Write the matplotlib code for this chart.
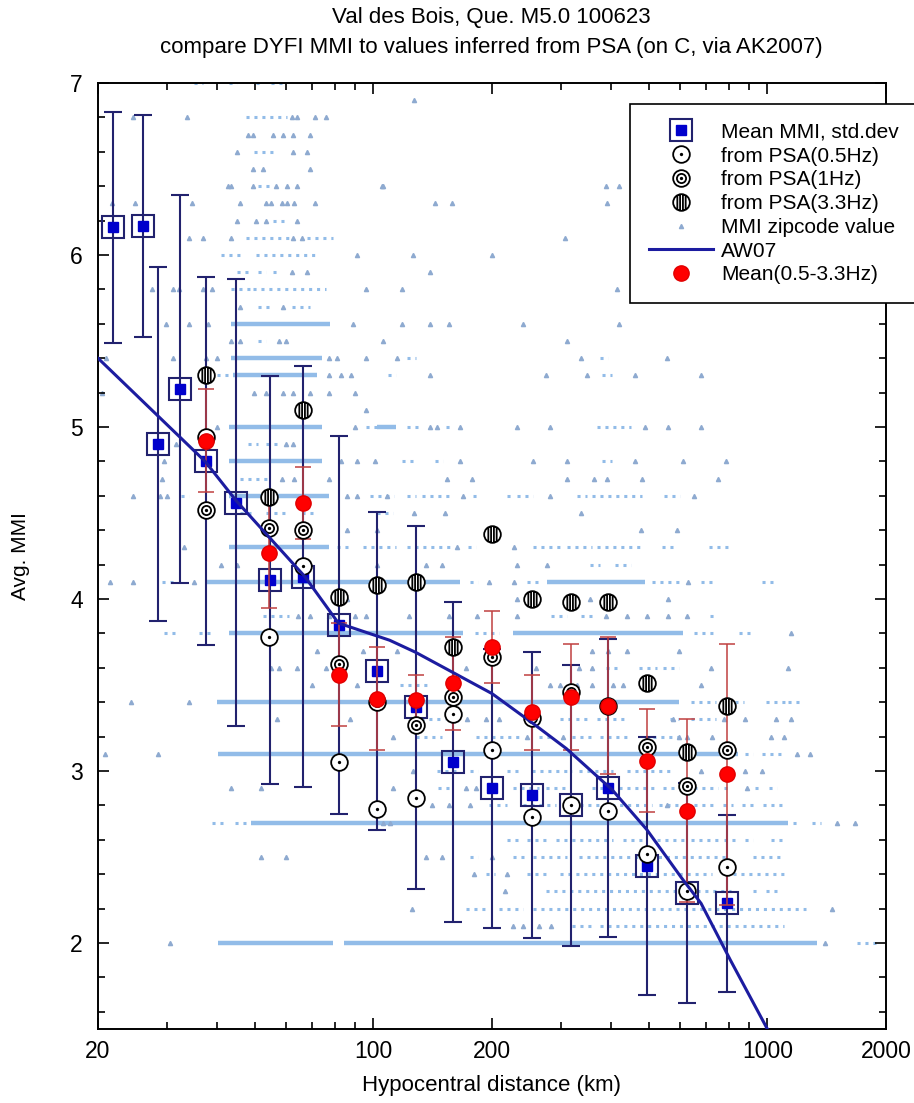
"""DYFI MMI vs hypocentral distance, Val des Bois 2010 event."""

import matplotlib

matplotlib.use("Agg")
import matplotlib.pyplot as plt
from matplotlib.lines import Line2D
from matplotlib.path import Path
from matplotlib.ticker import FixedLocator, NullFormatter

# --- binned DYFI means (blue squares, std.dev bars) ---
bin_dist = [21.8, 26.0, 28.4, 32.3, 37.5, 44.8, 54.6, 66.2, 81.6, 102,
            128, 159, 200, 252, 318, 395, 496, 626, 790]
bin_mmi = [6.16, 6.17, 4.90, 5.22, 4.80, 4.56, 4.11, 4.13, 3.85, 3.58,
           3.37, 3.05, 2.90, 2.86, 2.80, 2.90, 2.45, 2.29, 2.23]
bin_sd = [0.67, 0.645, 1.03, 1.13, 1.07, 1.30, 1.185, 1.225, 1.10, 0.925,
          1.055, 0.93, 0.81, 0.83, 0.815, 0.865, 0.75, 0.64, 0.515]

# --- MMI inferred from PSA ---
psa_dist = [37.5, 54.3, 66.2, 81.6, 102, 128, 159, 200, 252, 318, 395, 496, 626, 790]
psa05_mmi = [4.94, 3.78, 4.19, 3.05, 2.78, 2.84, 3.33, 3.12, 2.73, 2.80, 2.77, 2.52, 2.30, 2.44]
psa1_mmi = [4.52, 4.41, 4.40, 3.62, 3.40, 3.27, 3.43, 3.66, 3.31, 3.46, 3.38, 3.14, 2.91, 3.12]
psa33_mmi = [5.30, 4.59, 5.10, 4.01, 4.08, 4.10, 3.72, 4.38, 4.00, 3.98, 3.98, 3.51, 3.11, 3.38]
psa_mean = [4.92, 4.27, 4.56, 3.56, 3.42, 3.41, 3.51, 3.72, 3.34, 3.43, 3.38, 3.06, 2.77, 2.98]
psa_mean_err = [0.30, 0.32, 0.21, 0.30, 0.30, 0.15, 0.27, 0.21, 0.22, 0.31, 0.40, 0.30, 0.53, 0.76]

# --- AW07 relation ---
aw_dist = [20, 37.4, 44.9, 67, 81.5, 110, 128, 200, 253, 309, 404, 494, 605, 679, 806, 1000]
aw_mmi = [5.40, 4.80, 4.57, 4.13, 3.86, 3.76, 3.69, 3.45, 3.28, 3.13, 2.89, 2.66, 2.38,
          2.23, 1.90, 1.50]

# --- MMI zipcode values: (mmi, from km, to km) for continuous runs ---
zip_dense_runs = [
    (5.6, 43.6, 77.5), (5.4, 43.6, 74), (5.3, 44, 72), (5.0, 43, 74), (5.0, 102, 114),
    (4.8, 43, 74), (4.6, 43, 77), (4.3, 43, 77), (4.1, 37.7, 166), (4.1, 276, 490),
    (3.8, 43, 169), (3.8, 226, 610), (3.4, 40, 595), (3.1, 40.4, 842), (2.7, 49, 1130),
    (2.0, 40.4, 79), (2.0, 84, 1340),
]
zip_sparse_runs = [
    (7.0, 35, 37), (7.0, 43, 45), (7.0, 50.5, 52.5), (7.0, 55, 60),
    (6.8, 47.5, 60.4), (6.6, 49.8, 56.7), (6.4, 51, 55), (6.2, 55.5, 60.3),
    (6.1, 47.5, 61), (6.1, 68, 79), (6.0, 41, 46), (6.0, 50.5, 72),
    (5.9, 45, 48.5), (5.9, 51, 53.5), (5.9, 55.5, 58), (5.8, 43.6, 48.5), (5.8, 49.5, 76),
    (5.7, 51, 55.5), (5.7, 62, 69), (5.5, 51, 53.5), (5.4, 122, 128), (5.4, 375, 395),
    (5.3, 40, 43), (5.3, 109, 114), (5.3, 380, 404), (5.0, 96, 102), (5.0, 122, 131),
    (5.0, 153, 158), (5.0, 370, 450), (4.9, 48, 51), (4.9, 53.5, 57.5),
    (4.8, 118, 126), (4.8, 143, 150), (4.8, 380, 404), (4.7, 46, 54.5),
    (4.6, 32.5, 34), (4.6, 98, 113), (4.6, 122, 128), (4.6, 133, 158), (4.6, 179, 184),
    (4.6, 218, 225), (4.6, 231, 254), (4.6, 328, 349), (4.6, 358, 480), (4.6, 548, 600),
    (4.5, 46, 50), (4.5, 53.5, 60), (4.5, 66, 72), (4.5, 102, 112),
    (4.3, 81, 88), (4.3, 94, 114), (4.3, 122, 158), (4.3, 174, 182), (4.3, 254, 297),
    (4.3, 311, 358), (4.3, 370, 480), (4.3, 540, 575), (4.3, 710, 810),
    (4.2, 354, 375), (4.2, 410, 450), (4.1, 29, 31), (4.1, 176, 184), (4.1, 245, 262),
    (4.1, 510, 595), (4.1, 680, 735), (4.1, 970, 1040),
    (3.9, 52.5, 61), (3.9, 283, 310), (3.9, 337, 358), (3.9, 715, 735),
    (3.8, 29.5, 31.5), (3.8, 36, 39), (3.8, 181, 209), (3.8, 650, 740), (3.8, 845, 920),
    (3.6, 390, 420), (3.6, 472, 525), (3.6, 545, 595), (3.5, 117, 139),
    (3.4, 640, 740), (3.4, 790, 870), (3.4, 990, 1110), (3.4, 1130, 1200),
    (3.3, 126, 152), (3.3, 297, 349), (3.3, 370, 440), (3.3, 565, 595), (3.3, 640, 740),
    (3.2, 128, 149), (3.2, 182, 235), (3.2, 264, 283), (3.2, 320, 358), (3.2, 375, 450),
    (3.2, 490, 595), (3.1, 880, 920), (3.1, 970, 1110),
    (3.0, 145, 162), (3.0, 176, 184), (3.0, 218, 235), (3.0, 253, 320), (3.0, 333, 405),
    (3.0, 440, 570), (2.9, 146, 156), (2.9, 226, 264), (2.9, 274, 310), (2.9, 358, 405),
    (2.9, 420, 525), (2.9, 545, 590), (2.9, 620, 750), (2.9, 775, 810), (2.9, 930, 970),
    (2.9, 1010, 1060), (2.8, 196, 218), (2.8, 240, 290), (2.8, 320, 510), (2.8, 530, 595),
    (2.8, 620, 740), (2.8, 770, 820), (2.8, 860, 920), (2.8, 975, 1100),
    (2.7, 39, 42.5), (2.7, 44.5, 48), (2.7, 1160, 1190), (2.7, 1300, 1370),
    (2.6, 218, 235), (2.6, 245, 274), (2.6, 290, 405), (2.6, 430, 495), (2.6, 525, 625),
    (2.6, 640, 750), (2.6, 775, 845), (2.6, 880, 920), (2.6, 1020, 1090),
    (2.5, 176, 184), (2.5, 226, 245), (2.5, 254, 310), (2.5, 333, 790), (2.5, 920, 1100),
    (2.4, 193, 203), (2.4, 245, 274), (2.4, 297, 725), (2.4, 770, 800), (2.4, 820, 920),
    (2.4, 940, 1100), (2.3, 274, 810), (2.3, 920, 945), (2.3, 990, 1060),
    (2.2, 172, 196), (2.2, 209, 240), (2.2, 254, 1250), (2.1, 320, 358), (2.1, 375, 1100),
    (2.0, 1690, 1900),
]
zip_singles = {
    6.9: [127],
    6.8: [24.5, 33.7, 62, 64, 71, 76],
    6.7: [48, 49.5, 55.5, 59, 62.5, 69],
    6.6: [45, 62.5, 68],
    6.5: [49.5, 52.5, 69],
    6.4: [42.7, 43.6, 49.5, 56.7, 60.3, 64, 105, 106, 390, 420],
    6.3: [21.7, 24.8, 34.6, 46, 53.5, 55, 58.5, 60.3, 63, 71, 143, 158, 392],
    6.2: [45, 50.5, 53.5, 64],
    6.1: [34, 37, 43.6, 62.5, 66, 306],
    6.0: [91, 126, 200],
    5.9: [62, 68, 139],
    5.8: [27.4, 31, 32.2, 37, 39, 96, 118, 416],
    5.7: [46, 59],
    5.6: [29.8, 34, 38, 89, 118, 139, 156, 240, 420],
    5.5: [43.6, 46, 57.5, 60, 106, 310],
    5.4: [21, 31, 37.7, 40, 77, 81, 96, 115, 337, 555],
    5.3: [77, 83, 88, 139, 274, 349, 462, 680],
    5.2: [20.5, 49.8, 53.5, 59, 62.5, 69, 77, 90],
    5.1: [96],
    5.0: [40, 90, 139, 145, 166, 231, 281, 488, 560, 680],
    4.9: [28, 31.5, 60, 62.5],
    4.8: [29.5, 83, 91, 101, 166, 254, 310, 462, 610, 785],
    4.7: [29, 58.5, 63, 77, 154, 178, 311, 364, 392, 480, 750],
    4.6: [24.5, 28.7, 30, 85.5, 91, 108, 169, 281, 650],
    4.5: [127, 152, 337],
    4.4: [85.5, 102, 478, 590],
    4.3: [33, 163, 228],
    4.2: [41, 45, 102, 136, 149, 231, 276],
    4.1: [21.5, 24.5, 35, 196, 228, 630],
    4.0: [81, 85.5, 231, 354, 560],
    3.9: [64.5, 69, 77, 90, 96, 123, 156, 183, 231, 390, 440, 496, 560, 625],
    3.8: [1150],
    3.7: [72, 94, 115, 358, 395, 440, 595],
    3.6: [55, 57.5, 64, 76, 172, 258, 333, 358, 720, 1130],
    3.5: [70, 91, 280, 297, 328, 358, 405, 430, 680],
    3.4: [24.2, 34],
    3.3: [57, 87, 173, 193, 209, 575, 775, 880, 1050, 1150],
    3.2: [112, 245, 303, 595, 625, 725, 1020, 1100],
    3.1: [20.8, 28.4, 1190, 1280],
    3.0: [126, 680, 880, 970],
    2.9: [43.6, 52, 112, 172, 182, 196, 890],
    2.8: [141, 156, 176, 555],
    2.7: [106, 110, 1500, 1670],
    2.5: [52, 60, 136, 149, 200],
    2.4: [180, 218],
    2.3: [216],
    2.2: [125, 1460],
    2.1: [226, 240, 264, 283],
    2.0: [30.5, 1400],
}

x_ticks = [20, 100, 200, 1000, 2000]
y_ticks = [2, 3, 4, 5, 6, 7]

NAVY = "#22226e"
ZIP_BLUE = "#92bce8"
ZIP_DOT = "#8eaad0"


def _ring_marker(extra):
    return Path.make_compound_path(Path.unit_circle(), *extra)


dot = Path.circle((0, 0), 0.09)
psa05_marker = _ring_marker([dot])
psa1_marker = _ring_marker([Path.circle((0, 0), 0.55), dot])
hatch = []
for xv in (-0.5, -0.17, 0.17, 0.5):
    h = (1 - xv * xv) ** 0.5
    hatch.append(Path([(xv, -h), (xv, h)], [Path.MOVETO, Path.LINETO]))
psa33_marker = _ring_marker(hatch)

plt.rcParams["font.family"] = ["Liberation Sans", "DejaVu Sans"]

fig = plt.figure(figsize=(9.14, 11.03), dpi=100)
ax = fig.add_axes([0.1072, 0.0671, 0.8621, 0.8577])
ax.set_xscale("log")
ax.set_xlim(20, 2000)
ax.set_ylim(1.5, 7)

# zipcode values
for mmi, d0, d1 in zip_sparse_runs:
    ax.hlines(mmi, d0, d1, colors=ZIP_BLUE, linewidth=2.2,
              linestyles=(0, (1.0, 1.6)), zorder=1)
for mmi, d0, d1 in zip_dense_runs:
    ax.hlines(mmi, d0, d1, colors=ZIP_BLUE, linewidth=3.2, zorder=1)
for mmi, dists in zip_singles.items():
    ax.plot(dists, [mmi] * len(dists), ls="none", marker="^", ms=3,
            color=ZIP_DOT, zorder=1)

# std.dev bars and mean squares
ax.errorbar(bin_dist, bin_mmi, yerr=bin_sd, fmt="none", ecolor=NAVY,
            elinewidth=1.5, capsize=6.8, capthick=1.5, zorder=3)
ax.plot(bin_dist, bin_mmi, ls="none", marker="s", ms=16.5, mfc="none",
        mec=NAVY, mew=1.5, zorder=4)
ax.plot(bin_dist, bin_mmi, ls="none", marker="s", ms=6.5, mfc="#0000cc",
        mec="#0000cc", zorder=4)

# PSA-derived values
ax.errorbar(psa_dist, psa_mean, yerr=psa_mean_err, fmt="none", ecolor="#c04040",
            elinewidth=1.1, capsize=6, capthick=1.1, zorder=5)
psa_style = dict(ls="none", ms=12, mfc="white", mec="black", mew=1.3, zorder=6)
ax.plot(psa_dist, psa05_mmi, marker=psa05_marker, **psa_style)
ax.plot(psa_dist, psa1_mmi, marker=psa1_marker, **psa_style)
ax.plot(psa_dist, psa33_mmi, marker=psa33_marker, **psa_style)

ax.plot(aw_dist, aw_mmi, color="#1c1ca0", linewidth=2.2, zorder=7)
ax.plot(psa_dist, psa_mean, ls="none", marker="o", ms=11, mfc="#ff0000",
        mec="#e00000", zorder=8)

# axes styling
ax.xaxis.set_major_locator(FixedLocator(x_ticks))
ax.set_xticklabels([str(v) for v in x_ticks])
minor_x = [30, 40, 50, 60, 70, 80, 90, 300, 400, 500, 600, 700, 800, 900]
ax.xaxis.set_minor_locator(FixedLocator(minor_x))
ax.xaxis.set_minor_formatter(NullFormatter())
ax.set_yticks(y_ticks)
ax.set_yticks([1.6 + 0.2 * i for i in range(28)], minor=True)
ax.tick_params(which="both", direction="in", top=True, right=True,
               labelsize=16.5, width=1.2)
ax.tick_params(which="major", length=8)
ax.tick_params(which="minor", length=5)
ax.tick_params(axis="x", pad=8)
ax.tick_params(axis="y", pad=11)
for sp in ax.spines.values():
    sp.set_linewidth(1.4)

ax.set_xlabel("Hypocentral distance (km)", fontsize=16)
ax.set_ylabel("Avg. MMI", fontsize=15)
ax.xaxis.set_label_coords(0.5, -0.049)
ax.yaxis.set_label_coords(-0.086, 0.5)

fig.text(0.538, 1 - 18 / 1103, "Val des Bois, Que. M5.0 100623", ha="center",
         va="center", fontsize=16)
fig.text(0.538, 1 - 48 / 1103,
         "compare DYFI MMI to values inferred from PSA (on C, via AK2007)",
         ha="center", va="center", fontsize=16)

handles = [
    (Line2D([], [], ls="none", marker="s", ms=16.5, mfc="none", mec=NAVY, mew=1.5),
     Line2D([], [], ls="none", marker="s", ms=6.5, mfc="#0000cc", mec="#0000cc")),
    Line2D([], [], marker=psa05_marker, **psa_style),
    Line2D([], [], marker=psa1_marker, **psa_style),
    Line2D([], [], marker=psa33_marker, **psa_style),
    Line2D([], [], ls="none", marker="^", ms=3, color=ZIP_DOT),
    Line2D([], [], color="#1c1ca0", linewidth=2.2),
    Line2D([], [], ls="none", marker="o", ms=11, mfc="#ff0000", mec="#e00000"),
]
labels = ["Mean MMI, std.dev", "from PSA(0.5Hz)", "from PSA(1Hz)", "from PSA(3.3Hz)",
          "MMI zipcode value", "AW07", "Mean(0.5-3.3Hz)"]
leg = fig.legend(handles, labels, loc="upper left",
                 bbox_to_anchor=(630 / 914, 1 - 104 / 1103), fontsize=15,
                 frameon=True, fancybox=False, framealpha=1, edgecolor="black",
                 handlelength=3.1, handletextpad=0.38, borderpad=0.9,
                 borderaxespad=0, labelspacing=0.23, numpoints=1)
leg.get_frame().set_linewidth(1.2)

fig.savefig("out.png", dpi=100)
